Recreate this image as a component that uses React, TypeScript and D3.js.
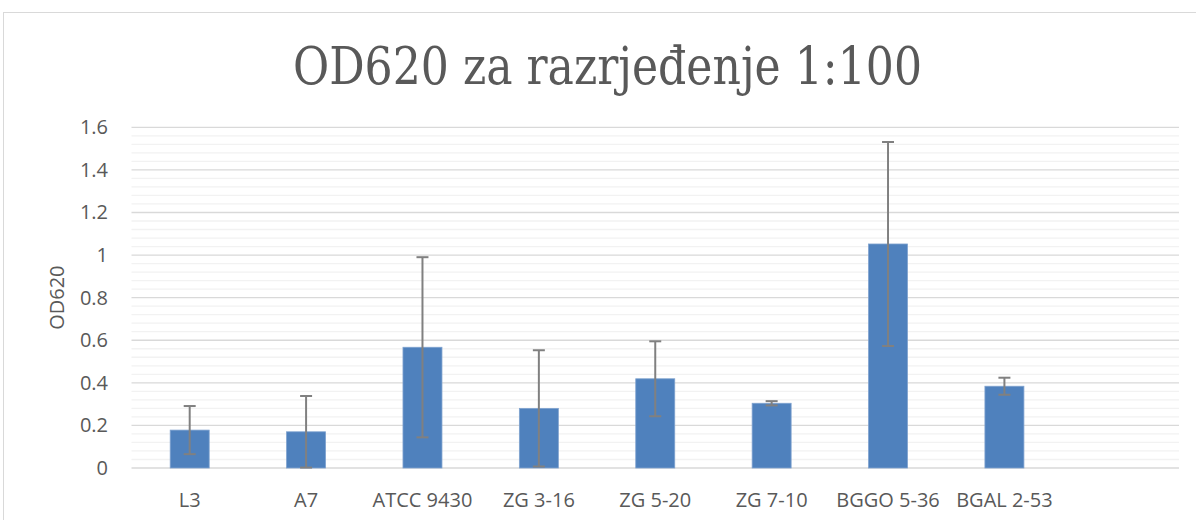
import React from "react";
import * as d3 from "d3";

const categories = ["L3", "A7", "ATCC 9430", "ZG 3-16", "ZG 5-20", "ZG 7-10", "BGGO 5-36", "BGAL 2-53", ""];
const values = [0.178, 0.17, 0.567, 0.28, 0.419, 0.304, 1.052, 0.384, null];
const errors = [0.113, 0.168, 0.423, 0.273, 0.176, 0.01, 0.479, 0.04, null];
const yTicks = [0, 0.2, 0.4, 0.6, 0.8, 1, 1.2, 1.4, 1.6];
const title = "OD620 za razrjeđenje 1:100";
const yTitle = "OD620";

export default function App() {
  const W = 1196, H = 520;
  const left = 131.5, right = 1179, top = 127.3, bottom = 468;
  const x = d3.scaleBand<string>().domain(categories.map((c, i) => String(i))).range([left, right]).paddingInner(0.665).paddingOuter(0.3325);
  const y = d3.scaleLinear().domain([0, 1.6]).range([bottom, top]);
  const minor = d3.range(0, 1.6001, 0.04).filter((v) => Math.abs(v / 0.2 - Math.round(v / 0.2)) > 1e-6);
  const font = "'Open Sans', 'Noto Sans', sans-serif";
  const fs = 20;
  return (
    <svg width={W} height={H} style={{ position: "absolute", left: 0, top: 0, background: "#fff" }}>
      <rect x={3.5} y={12.5} width={1300} height={600} fill="#fff" stroke="#d9d9d9" strokeWidth={1} />
      <text x={607.5} y={84} textAnchor="middle" fontFamily="'DejaVu Serif Condensed', 'DejaVu Serif', serif" fontSize={53} fill="#595959" textLength={629} lengthAdjust="spacingAndGlyphs">{title}</text>
      {minor.map((v, i) => (
        <line key={"m" + i} x1={left} x2={right} y1={y(v)} y2={y(v)} stroke="#f2f2f2" strokeWidth={1.3} />
      ))}
      {yTicks.map((v, i) => (
        <line key={"g" + i} x1={left} x2={right} y1={y(v)} y2={y(v)} stroke="#d9d9d9" strokeWidth={1.3} />
      ))}
      {yTicks.map((v, i) => (
        <text key={"t" + i} x={108} y={y(v) + 7} textAnchor="end" fontFamily={font} fontSize={fs} fill="#595959">{String(v)}</text>
      ))}
      <text transform={`translate(64,${(top + bottom) / 2}) rotate(-90)`} textAnchor="middle" fontFamily={font} fontSize={fs} fill="#595959">{yTitle}</text>
      {categories.map((c, i) => {
        const v = values[i];
        if (v == null) return null;
        const bx = x(String(i))!;
        const bw = x.bandwidth();
        return (
          <rect key={"b" + i} x={bx} y={y(v)} width={bw} height={y(0) - y(v)} fill="#4f81bd" stroke="#7fa2cf" strokeWidth={0.8} />
        );
      })}
      {categories.map((c, i) => {
        const v = values[i];
        const e = errors[i];
        if (v == null || e == null) return null;
        const cx = x(String(i))! + x.bandwidth() / 2;
        const y1 = y(v + e), y2 = y(Math.max(0, v - e));
        return (
          <g key={"e" + i} stroke="#808080" strokeWidth={2}>
            <line x1={cx} x2={cx} y1={y1} y2={y2} />
            <line x1={cx - 6} x2={cx + 6} y1={y1} y2={y1} />
            <line x1={cx - 6} x2={cx + 6} y1={y2} y2={y2} />
          </g>
        );
      })}
      {categories.map((c, i) => (
        <text key={"x" + i} x={x(String(i))! + x.bandwidth() / 2} y={507} textAnchor="middle" fontFamily={font} fontSize={fs} fill="#595959">{c}</text>
      ))}
    </svg>
  );
}
